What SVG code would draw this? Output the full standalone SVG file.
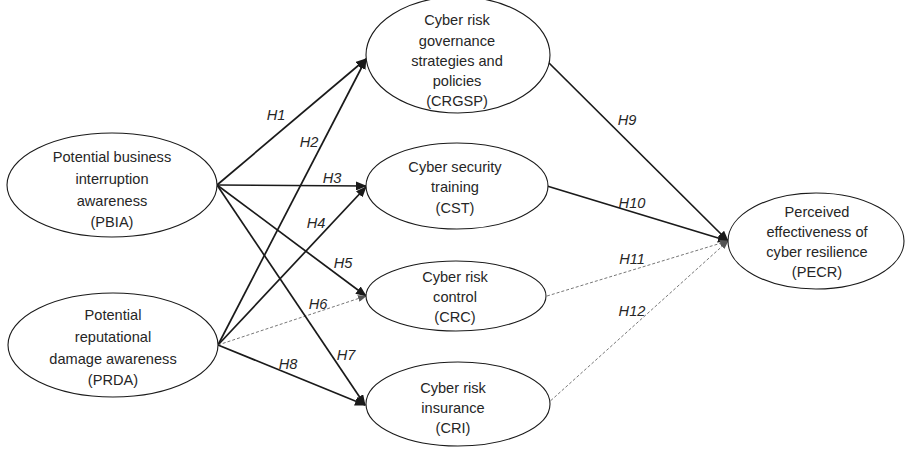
<svg xmlns="http://www.w3.org/2000/svg" width="906" height="449" viewBox="0 0 906 449">
  <style>
    .node ellipse { fill: #ffffff; stroke: #1a1a1a; stroke-width: 1.1; }
    .node text { font-family: "Liberation Sans", Arial, sans-serif; font-size: 14.6px; fill: #262626; text-anchor: middle; }
    .path { stroke: #1a1a1a; stroke-width: 1.7; fill: none; }
    .path-weak { stroke: #777777; stroke-width: 1; stroke-dasharray: 3 2; fill: none; }
    .hyp { font-family: "Liberation Sans", Arial, sans-serif; font-size: 14.6px; font-style: italic; fill: #262626; text-anchor: middle; }
  </style>
  <defs>
    <marker id="arrow" markerUnits="userSpaceOnUse" markerWidth="11" markerHeight="9" refX="10" refY="4.5" orient="auto">
      <path d="M0,0 L11,4.5 L0,9 Z" fill="#1a1a1a"/>
    </marker>
    <marker id="arrow-weak" markerUnits="userSpaceOnUse" markerWidth="9" markerHeight="7" refX="8" refY="3.5" orient="auto">
      <path d="M0,0 L9,3.5 L0,7 Z" fill="#555555"/>
    </marker>
  </defs>
  <rect width="906" height="449" fill="#ffffff"/>

  <g id="connectors">
    <line class="path" x1="217" y1="185" x2="366" y2="59" marker-end="url(#arrow)"/>
    <line class="path" x1="218" y1="345" x2="366" y2="59" marker-end="url(#arrow)"/>
    <line class="path" x1="217" y1="185" x2="366" y2="186" marker-end="url(#arrow)"/>
    <line class="path" x1="218" y1="345" x2="366" y2="187" marker-end="url(#arrow)"/>
    <line class="path" x1="217" y1="185" x2="366" y2="296" marker-end="url(#arrow)"/>
    <line class="path-weak" x1="218" y1="345" x2="366" y2="296" marker-end="url(#arrow-weak)"/>
    <line class="path" x1="217" y1="185" x2="365" y2="405" marker-end="url(#arrow)"/>
    <line class="path" x1="218" y1="345" x2="365" y2="405" marker-end="url(#arrow)"/>
    <line class="path" x1="543" y1="57" x2="728" y2="241" marker-end="url(#arrow)"/>
    <line class="path" x1="547" y1="186" x2="728" y2="241" marker-end="url(#arrow)"/>
    <line class="path-weak" x1="547" y1="296" x2="728" y2="241" marker-end="url(#arrow-weak)"/>
    <line class="path-weak" x1="547" y1="404" x2="728" y2="241" marker-end="url(#arrow-weak)"/>

    <text class="hyp" x="276" y="120">H1</text>
    <text class="hyp" x="309" y="147">H2</text>
    <text class="hyp" x="332" y="183">H3</text>
    <text class="hyp" x="316" y="228">H4</text>
    <text class="hyp" x="343" y="268">H5</text>
    <text class="hyp" x="318" y="309">H6</text>
    <text class="hyp" x="346" y="360">H7</text>
    <text class="hyp" x="288" y="369">H8</text>
    <text class="hyp" x="627" y="125">H9</text>
    <text class="hyp" x="632" y="208">H10</text>
    <text class="hyp" x="632" y="264">H11</text>
    <text class="hyp" x="632" y="316">H12</text>
  </g>

  <g id="PBIA" class="node">
    <ellipse cx="112" cy="185" rx="105" ry="52"/>
    <text x="112" y="162">Potential business</text>
    <text x="112" y="184">interruption</text>
    <text x="112" y="206">awareness</text>
    <text x="112" y="227">(PBIA)</text>
  </g>

  <g id="PRDA" class="node">
    <ellipse cx="113" cy="345" rx="105" ry="52"/>
    <text x="113" y="320">Potential</text>
    <text x="113" y="342">reputational</text>
    <text x="113" y="364">damage awareness</text>
    <text x="113" y="385">(PRDA)</text>
  </g>

  <g id="CRGSP" class="node">
    <ellipse cx="458" cy="55" rx="92" ry="58"/>
    <text x="457" y="25">Cyber risk</text>
    <text x="457" y="46">governance</text>
    <text x="457" y="66">strategies and</text>
    <text x="457" y="86">policies</text>
    <text x="457" y="106">(CRGSP)</text>
  </g>

  <g id="CST" class="node">
    <ellipse cx="457" cy="186" rx="91" ry="43"/>
    <text x="455" y="172">Cyber security</text>
    <text x="455" y="192">training</text>
    <text x="455" y="213">(CST)</text>
  </g>

  <g id="CRC" class="node">
    <ellipse cx="456" cy="296" rx="90" ry="35"/>
    <text x="455" y="282">Cyber risk</text>
    <text x="455" y="302">control</text>
    <text x="455" y="322">(CRC)</text>
  </g>

  <g id="CRI" class="node">
    <ellipse cx="458" cy="404" rx="92" ry="42"/>
    <text x="453" y="393">Cyber risk</text>
    <text x="453" y="413">insurance</text>
    <text x="453" y="433">(CRI)</text>
  </g>

  <g id="PECR" class="node">
    <ellipse cx="816" cy="241" rx="88" ry="48"/>
    <text x="817" y="217">Perceived</text>
    <text x="817" y="237">effectiveness of</text>
    <text x="817" y="257">cyber resilience</text>
    <text x="817" y="277">(PECR)</text>
  </g>
</svg>
